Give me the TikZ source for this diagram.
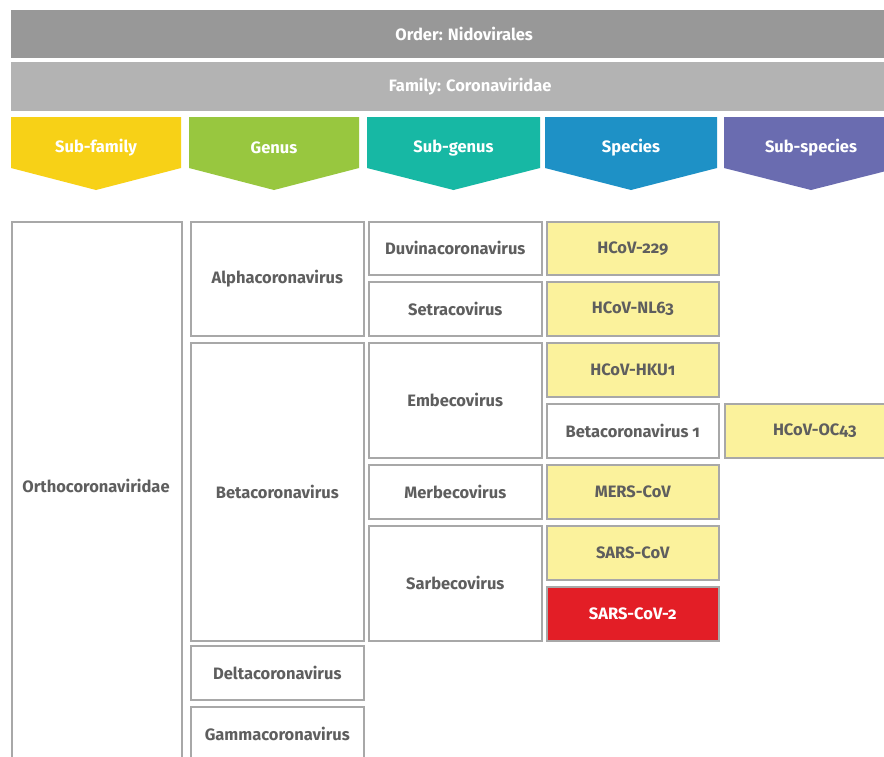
\documentclass[tikz,border=0pt]{standalone}
\usepackage{fontspec}
\setmainfont{Fira Sans}[Numbers=OldStyle]
\usepackage{tikz}
\usepackage{xcolor}

\definecolor{ordergray}{HTML}{989898}
\definecolor{famgray}{HTML}{B3B3B3}
\definecolor{subfam}{HTML}{F7D117}
\definecolor{genus}{HTML}{98C73F}
\definecolor{subgen}{HTML}{17B8A4}
\definecolor{species}{HTML}{1E91C6}
\definecolor{subspec}{HTML}{6A6CB0}
\definecolor{lightyel}{HTML}{FBF29C}
\definecolor{covred}{HTML}{E31E26}
\definecolor{txtgray}{HTML}{5E5E5E}
\definecolor{boxline}{HTML}{A8A8A8}

\tikzset{
  bar/.style={fill=#1,anchor=north west,inner sep=0pt,minimum height=48pt,
    text=white,font=\bfseries\fontsize{16.5}{18}\selectfont},
  headtxt/.style={text=white,font=\bfseries\fontsize{16.5}{18}\selectfont},
  taxbox/.style={draw=boxline,line width=1.6pt,anchor=north west,inner sep=0pt,
    text=txtgray,font=\bfseries\fontsize{16.5}{18}\selectfont,align=center},
  spbox/.style={taxbox,fill=lightyel}
}

\begin{document}
\begin{tikzpicture}[x=1pt,y=-1pt]
\clip (0,0) rectangle (884,756);
\fill[white] (0,0) rectangle (884,756);
% rank bars
\node[bar=ordergray,minimum width=906pt] (order) at (11,10) {Order: Nidovirales};
\node[bar=famgray,minimum width=918pt,minimum height=49pt] (family) at (11,62) {Family: Coronaviridae};
% chevrons
\fill[subfam] (11,117) -- (181,117) -- (181,168) -- (96,190) -- (11,168) -- cycle;
\node[headtxt] (hsubfam) at (96,148) {Sub-family};
\fill[genus] (189,117) -- (359,117) -- (359,168) -- (274,190) -- (189,168) -- cycle;
\node[headtxt] (hgenus) at (274,148) {Genus};
\fill[subgen] (367,117) -- (540,117) -- (540,168) -- (453.5,190) -- (367,168) -- cycle;
\node[headtxt] (hsubgen) at (453.5,148) {Sub-genus};
\fill[species] (545,117) -- (717,117) -- (717,168) -- (631,190) -- (545,168) -- cycle;
\node[headtxt] (hspecies) at (631,148) {Species};
\fill[subspec] (724,117) -- (898,117) -- (898,168) -- (811,190) -- (724,168) -- cycle;
\node[headtxt] (hsubspec) at (811,148) {Sub-species};
% sub-family
\node[taxbox,minimum width=170pt,minimum height=545pt,anchor=north west] (ortho) at (11,221) {};
\node[text=txtgray,font=\bfseries\fontsize{16.5}{18}\selectfont] (orthotxt) at (96,486) {Orthocoronaviridae};
% genus
\node[taxbox,minimum width=173pt,minimum height=114pt] (alpha) at (190,221) {Alphacoronavirus};
\node[taxbox,minimum width=173pt,minimum height=298pt] (beta) at (190,342) {Betacoronavirus};
\node[taxbox,minimum width=173pt,minimum height=54pt] (delta) at (190,645) {Deltacoronavirus};
\node[taxbox,minimum width=173pt,minimum height=54pt] (gamma) at (190,706) {Gammacoronavirus};
% sub-genus
\node[taxbox,minimum width=173pt,minimum height=53pt] (duvina) at (368,221) {Duvinacoronavirus};
\node[taxbox,minimum width=173pt,minimum height=54pt] (setra) at (368,281) {Setracovirus};
\node[taxbox,minimum width=173pt,minimum height=115pt] (embeco) at (368,342) {Embecovirus};
\node[taxbox,minimum width=173pt,minimum height=54pt] (merbeco) at (368,464) {Merbecovirus};
\node[taxbox,minimum width=173pt,minimum height=115pt] (sarbeco) at (368,525) {Sarbecovirus};
% species
\node[spbox,minimum width=172pt,minimum height=53pt] (hcov229) at (546,221) {HCoV-229};
\node[spbox,minimum width=172pt,minimum height=54pt] (nl63) at (546,281) {HCoV-NL63};
\node[spbox,minimum width=172pt,minimum height=54pt] (hku1) at (546,342) {HCoV-HKU1};
\node[taxbox,minimum width=172pt,minimum height=54pt] (betaone) at (546,403) {Betacoronavirus 1};
\node[spbox,minimum width=172pt,minimum height=54pt] (mers) at (546,464) {MERS-CoV};
\node[spbox,minimum width=172pt,minimum height=54pt] (sars) at (546,525) {SARS-CoV};
\node[taxbox,fill=covred,text=white,minimum width=172pt,minimum height=54pt] (sars2) at (546,586) {SARS-CoV-2};
% sub-species
\node[spbox,minimum width=180pt,minimum height=54pt] (oc43) at (724,403) {HCoV-OC43};
\end{tikzpicture}
\end{document}
